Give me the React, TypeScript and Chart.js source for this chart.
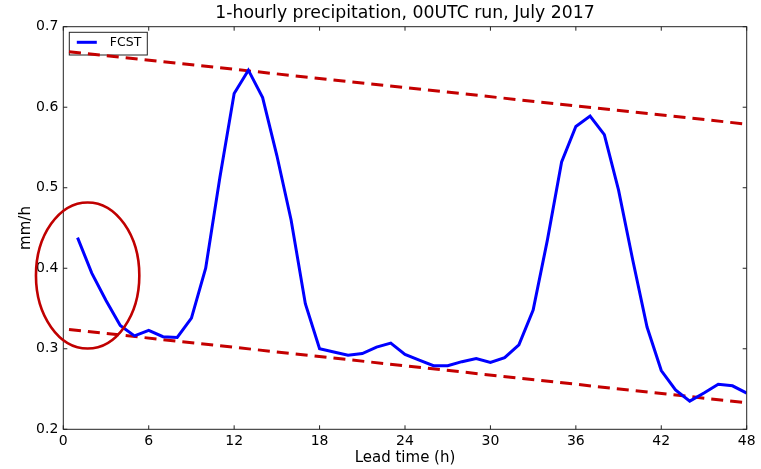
import React, { useEffect, useRef } from "react";
import { Chart, registerables } from "chart.js";

Chart.register(...registerables);

// ---- data ----
const TITLE = "1-hourly precipitation, 00UTC run, July 2017";
const X_LABEL = "Lead time (h)";
const Y_LABEL = "mm/h";
const SERIES_LABEL = "FCST";

const LEAD_HOURS = [
  1, 2, 3, 4, 5, 6, 7, 8, 9, 10, 11, 12, 13, 14, 15, 16, 17, 18, 19, 20, 21, 22, 23, 24,
  25, 26, 27, 28, 29, 30, 31, 32, 33, 34, 35, 36, 37, 38, 39, 40, 41, 42, 43, 44, 45, 46, 47, 48,
];
const FCST = [
  0.438, 0.394, 0.36, 0.329, 0.316, 0.323, 0.315, 0.314, 0.338, 0.4, 0.513, 0.617,
  0.646, 0.612, 0.54, 0.46, 0.356, 0.3, 0.296, 0.292, 0.294, 0.302, 0.307, 0.293,
  0.286, 0.279, 0.279, 0.284, 0.288, 0.283, 0.289, 0.305, 0.348, 0.435, 0.532, 0.576,
  0.589, 0.566, 0.497, 0.41, 0.327, 0.273, 0.249, 0.235, 0.245, 0.256, 0.254, 0.245,
];

const TREND_X = [0.4, 48];
const UPPER_TREND = [0.669, 0.579];
const LOWER_TREND = [0.324, 0.233];

const X_TICKS = [0, 6, 12, 18, 24, 30, 36, 42, 48];
const Y_TICKS = [0.2, 0.3, 0.4, 0.5, 0.6, 0.7];

// highlight ellipse (data units): centre [hour, mm/h], radii [hours, mm/h]
const ELLIPSE_CENTER = [1.71, 0.391];
const ELLIPSE_RADII = [3.63, 0.0907];

const FONT = "'DejaVu Sans', sans-serif";
const BLUE = "#0000ff";
const RED = "#c40000";

const framePlugin = {
  id: "mplFrame",
  beforeDatasetsDraw(chart: any) {
    const { ctx, chartArea } = chart;
    const { left, top } = chartArea;
    ctx.save();
    // legend box (drawn beneath the overlay lines)
    const bx = left + 6;
    const by = top + 5.6;
    const bw = 78;
    const bh = 22.7;
    ctx.fillStyle = "#fff";
    ctx.fillRect(bx, by, bw, bh);
    ctx.strokeStyle = "#222";
    ctx.lineWidth = 1;
    ctx.strokeRect(bx, by, bw, bh);
    ctx.beginPath();
    ctx.moveTo(bx + 7.5, by + 10);
    ctx.lineTo(bx + 27.5, by + 10);
    ctx.strokeStyle = BLUE;
    ctx.lineWidth = 3;
    ctx.stroke();
    ctx.fillStyle = "#000";
    ctx.font = `12.5px ${FONT}`;
    ctx.textAlign = "left";
    ctx.textBaseline = "middle";
    ctx.fillText(SERIES_LABEL, bx + 40.5, by + 10.5);
    ctx.restore();
  },
  afterDraw(chart: any) {
    const { ctx, chartArea, scales } = chart;
    const { left, right, top, bottom } = chartArea;
    ctx.save();
    const xs = scales.x;
    const ys = scales.y;

    // frame
    ctx.strokeStyle = "#222";
    ctx.lineWidth = 1;
    ctx.strokeRect(left, top, right - left, bottom - top);
    // inward ticks on all four sides
    const tl = 4;
    ctx.beginPath();
    for (const v of X_TICKS) {
      const px = xs.getPixelForValue(v);
      ctx.moveTo(px, bottom);
      ctx.lineTo(px, bottom - tl);
      ctx.moveTo(px, top);
      ctx.lineTo(px, top + tl);
    }
    for (const v of Y_TICKS) {
      const py = ys.getPixelForValue(v);
      ctx.moveTo(left, py);
      ctx.lineTo(left + tl, py);
      ctx.moveTo(right, py);
      ctx.lineTo(right - tl, py);
    }
    ctx.stroke();

    // ellipse annotation (not clipped)
    const cx = xs.getPixelForValue(ELLIPSE_CENTER[0]);
    const cy = ys.getPixelForValue(ELLIPSE_CENTER[1]);
    const rx = Math.abs(xs.getPixelForValue(ELLIPSE_CENTER[0] + ELLIPSE_RADII[0]) - cx);
    const ry = Math.abs(ys.getPixelForValue(ELLIPSE_CENTER[1] + ELLIPSE_RADII[1]) - cy);
    ctx.beginPath();
    ctx.ellipse(cx, cy, rx, ry, 0, 0, Math.PI * 2);
    ctx.strokeStyle = "#c00000";
    ctx.lineWidth = 2.6;
    ctx.stroke();

    // title
    ctx.fillStyle = "#000";
    ctx.font = `17.3px ${FONT}`;
    ctx.textAlign = "center";
    ctx.textBaseline = "middle";
    ctx.fillText(TITLE, (left + right) / 2, 14);
    ctx.restore();
  },
};

export default function App() {
  const ref = useRef<HTMLCanvasElement | null>(null);

  useEffect(() => {
    if (!ref.current) return;
    const chart = new Chart(ref.current, {
      type: "line",
      data: {
        datasets: [
          {
            label: SERIES_LABEL,
            data: LEAD_HOURS.map((h, i) => ({ x: h, y: FCST[i] })),
            borderColor: BLUE,
            borderWidth: 3,
            pointRadius: 0,
            tension: 0,
            fill: false,
          },
          {
            label: "upper",
            data: TREND_X.map((h, i) => ({ x: h, y: UPPER_TREND[i] })),
            borderColor: RED,
            borderWidth: 3,
            borderDash: [12, 7],
            pointRadius: 0,
            fill: false,
          },
          {
            label: "lower",
            data: TREND_X.map((h, i) => ({ x: h, y: LOWER_TREND[i] })),
            borderColor: RED,
            borderWidth: 3,
            borderDash: [12, 7],
            pointRadius: 0,
            fill: false,
          },
        ],
      },
      options: {
        responsive: false,
        animation: false,
        layout: { padding: { top: 26.7, right: 14.3, left: 0, bottom: 0 } },
        plugins: {
          legend: { display: false },
          title: { display: false },
          tooltip: { enabled: false },
        },
        scales: {
          x: {
            type: "linear",
            min: 0,
            max: 48,
            afterBuildTicks: (s: any) => {
              s.ticks = X_TICKS.map((v) => ({ value: v }));
            },
            afterFit: (s: any) => {
              s.height = 39.7;
            },
            grid: { display: false, drawTicks: false },
            border: { display: false },
            ticks: {
              color: "#000",
              font: { family: FONT, size: 14 },
              padding: 4,
              maxRotation: 0,
              autoSkip: false,
              callback: (v: any) => String(v),
            },
            title: {
              display: true,
              text: X_LABEL,
              color: "#000",
              font: { family: FONT, size: 15 },
              padding: { top: 0, bottom: 2 },
            },
          },
          y: {
            type: "linear",
            min: 0.2,
            max: 0.7,
            afterBuildTicks: (s: any) => {
              s.ticks = Y_TICKS.map((v) => ({ value: v }));
            },
            afterFit: (s: any) => {
              s.width = 63.3;
            },
            grid: { display: false, drawTicks: false },
            border: { display: false },
            ticks: {
              color: "#000",
              font: { family: FONT, size: 14 },
              padding: 5,
              autoSkip: false,
              callback: (v: any) => Number(v).toFixed(1),
            },
            title: {
              display: true,
              text: Y_LABEL,
              color: "#000",
              font: { family: FONT, size: 15 },
              padding: { top: 17, bottom: 0 },
            },
          },
        },
      },
      plugins: [framePlugin],
    });
    return () => chart.destroy();
  }, []);

  return (
    <div style={{ position: "fixed", left: 0, top: 0, width: 761, height: 469, background: "#fff" }}>
      <canvas ref={ref} width={761} height={469} style={{ display: "block" }} />
    </div>
  );
}
